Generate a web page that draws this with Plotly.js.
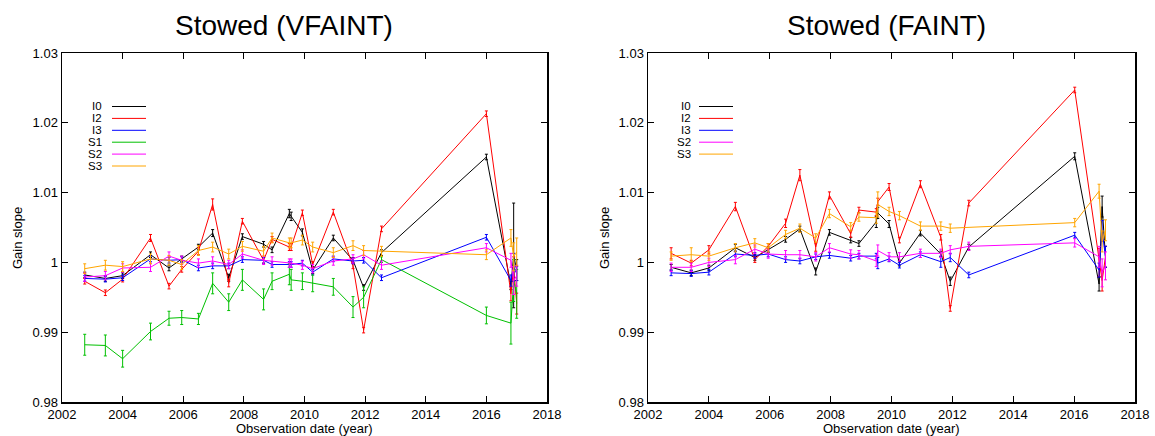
<!DOCTYPE html>
<html><head><meta charset="utf-8">
<script src="https://cdn.plot.ly/plotly-3.0.1.min.js"></script>
<style>html,body{margin:0;padding:0;background:#fff;}#chart{width:1155px;height:436px;}</style>
</head><body><div id="chart"></div>
<script>
// ---------- Data: Stowed (VFAINT) ----------
const dateVF = [2002.75, 2003.43, 2004.0, 2004.92, 2005.53, 2005.95, 2006.5, 2006.97, 2007.5, 2007.95, 2008.65, 2008.93, 2009.5, 2009.56, 2009.93, 2010.27, 2010.95, 2011.6, 2011.95, 2012.54, 2016.0, 2016.81, 2016.9, 2017.0];
const I0_VF  = [0.9982, 0.9977, 0.9981, 1.0011, 0.9992, 1.0005, 1.0022, 1.0042, 0.9978, 1.0037, 1.0026, 1.0018, 1.0070, 1.0066, 1.0043, 0.9989, 1.0035, 1.0003, 0.9964, 1.0014, 1.0151, 0.9967, 1.0010, 0.9989];
const I0_VF_err = [0.0004, 0.0004, 0.0004, 0.0004, 0.0004, 0.0004, 0.0004, 0.0005, 0.0005, 0.0004, 0.0004, 0.0004, 0.0006, 0.0006, 0.0005, 0.0005, 0.0004, 0.0004, 0.0004, 0.0004, 0.0004, 0.0006, 0.0075, 0.0015];
const I2_VF  = [0.9973, 0.99565, 0.9976, 1.0035, 0.9966, 0.9990, 1.0016, 1.0083, 0.9970, 1.0059, 1.0003, 1.0033, 1.0022, 1.0022, 1.0071, 0.9997, 1.0072, 0.9995, 0.9903, 1.0048, 1.0213, 0.9955, 0.9993, 0.9941];
const I2_VF_err = [0.0004, 0.0004, 0.0004, 0.0005, 0.0004, 0.0004, 0.0005, 0.0008, 0.0005, 0.0004, 0.0004, 0.0004, 0.0005, 0.0005, 0.0004, 0.0004, 0.0004, 0.0004, 0.0004, 0.0004, 0.0004, 0.0010, 0.0015, 0.0015];
const I3_VF  = [0.9977, 0.9976, 0.9978, 1.0005, 1.0003, 1.0004, 0.9992, 0.9995, 0.9995, 1.0004, 1.0003, 0.9997, 0.9997, 0.9997, 0.9999, 0.9986, 1.0005, 1.0002, 1.0003, 0.9978, 1.0036, 0.9974, 0.9993, 0.9984];
const I3_VF_err = [0.0004, 0.0004, 0.0004, 0.0004, 0.0004, 0.0004, 0.0004, 0.0004, 0.0004, 0.0004, 0.0004, 0.0004, 0.0004, 0.0004, 0.0004, 0.0004, 0.0004, 0.0004, 0.0004, 0.0004, 0.0004, 0.0008, 0.0020, 0.0010];
const S1_VF  = [0.9882, 0.9881, 0.9862, 0.9901, 0.9920, 0.9921, 0.9919, 0.9970, 0.9943, 0.9975, 0.9947, 0.9973, 0.9983, 0.9975, 0.9973, 0.9970, 0.9965, 0.9936, 0.9950, 1.0004, 0.9924, 0.9913, 0.9974, 0.9955];
const S1_VF_err = [0.0015, 0.0015, 0.0012, 0.0012, 0.0010, 0.0010, 0.0008, 0.0015, 0.0012, 0.0015, 0.0015, 0.0012, 0.0015, 0.0015, 0.0012, 0.0012, 0.0012, 0.0015, 0.0015, 0.0004, 0.0012, 0.0030, 0.0030, 0.0035];
const S2_VF  = [0.9979, 0.9981, 0.9992, 0.9993, 1.0009, 1.0003, 0.9999, 1.0002, 0.9997, 1.0012, 1.0003, 1.0002, 0.9999, 0.9999, 0.9996, 0.9991, 1.0002, 1.0005, 1.0011, 0.9996, 1.0021, 1.0003, 0.9974, 0.9981];
const S2_VF_err = [0.0006, 0.0006, 0.0006, 0.0006, 0.0006, 0.0006, 0.0006, 0.0006, 0.0006, 0.0006, 0.0006, 0.0006, 0.0006, 0.0006, 0.0006, 0.0006, 0.0006, 0.0006, 0.0006, 0.0006, 0.0006, 0.0010, 0.0020, 0.0015];
const S3_VF  = [0.9991, 0.9996, 0.9994, 1.0005, 1.0003, 0.9997, 1.0017, 1.0022, 1.0012, 1.0023, 1.0016, 1.0035, 1.0028, 1.0028, 1.0032, 1.0022, 1.0014, 1.0024, 1.0017, 1.0016, 1.0011, 1.0035, 1.0008, 1.0015];
const S3_VF_err = [0.0007, 0.0007, 0.0007, 0.0007, 0.0007, 0.0007, 0.0007, 0.0007, 0.0007, 0.0007, 0.0007, 0.0007, 0.0007, 0.0007, 0.0007, 0.0007, 0.0007, 0.0007, 0.0007, 0.0007, 0.0007, 0.0012, 0.0020, 0.0020];

// ---------- Data: Stowed (FAINT) ----------
const dateF = [2002.76, 2003.42, 2004.0, 2004.87, 2005.51, 2005.95, 2006.52, 2006.99, 2007.51, 2007.96, 2008.66, 2008.93, 2009.50, 2009.55, 2009.92, 2010.26, 2010.95, 2011.62, 2011.93, 2012.54, 2016.02, 2016.82, 2016.92, 2017.03];
const I0_F  = [0.9993, 0.9985, 0.9992, 1.0021, 1.0007, 1.0018, 1.0033, 1.0048, 0.9987, 1.0043, 1.0032, 1.0027, 1.0058, 1.0071, 1.0055, 0.9999, 1.0042, 1.0012, 0.9973, 1.0022, 1.0152, 0.9969, 1.0080, 1.0008];
const I0_F_err = [0.0004, 0.0004, 0.0004, 0.0005, 0.0004, 0.0004, 0.0004, 0.0004, 0.0005, 0.0004, 0.0004, 0.0004, 0.0008, 0.0008, 0.0005, 0.0004, 0.0004, 0.0004, 0.0006, 0.0004, 0.0005, 0.0010, 0.0015, 0.0015];
const I2_F  = [1.0013, 0.9999, 1.0018, 1.0080, 1.0004, 1.0023, 1.0056, 1.0125, 1.0022, 1.0096, 1.0041, 1.0075, 1.0072, 1.0087, 1.0108, 1.0032, 1.0112, 1.0036, 0.9934, 1.0085, 1.0247, 1.0000, 0.9974, 1.0008];
const I2_F_err = [0.0008, 0.0004, 0.0006, 0.0006, 0.0004, 0.0004, 0.0006, 0.0008, 0.0006, 0.0005, 0.0005, 0.0004, 0.0005, 0.0005, 0.0005, 0.0004, 0.0005, 0.0004, 0.0004, 0.0004, 0.0004, 0.0020, 0.0015, 0.0015];
const I3_F  = [0.9985, 0.9984, 0.9986, 1.0012, 1.0010, 1.0012, 1.0004, 1.0002, 1.0008, 1.0010, 1.0006, 1.0009, 1.0009, 0.9999, 1.0005, 0.9996, 1.0011, 1.0001, 1.0007, 0.9982, 1.0039, 0.9989, 1.0045, 1.0008];
const I3_F_err = [0.0004, 0.0004, 0.0004, 0.0004, 0.0004, 0.0004, 0.0004, 0.0004, 0.0004, 0.0004, 0.0004, 0.0004, 0.0004, 0.0008, 0.0004, 0.0004, 0.0004, 0.0008, 0.0006, 0.0004, 0.0004, 0.0010, 0.0015, 0.0015];
const S2_F  = [0.9993, 0.9993, 1.0000, 1.0004, 1.0019, 1.0012, 1.0011, 1.0011, 1.0008, 1.0021, 1.0012, 1.0011, 1.0002, 1.0017, 1.0008, 1.0008, 1.0013, 1.0013, 1.0018, 1.0023, 1.0028, 1.0008, 0.9985, 0.9995];
const S2_F_err = [0.0006, 0.0006, 0.0006, 0.0006, 0.0006, 0.0006, 0.0006, 0.0006, 0.0006, 0.0006, 0.0006, 0.0006, 0.0008, 0.0008, 0.0006, 0.0006, 0.0006, 0.0006, 0.0006, 0.0006, 0.0006, 0.0015, 0.0020, 0.0020];
const S3_F  = [1.0009, 1.0011, 1.0009, 1.0021, 1.0028, 1.0021, 1.0040, 1.0049, 1.0035, 1.0070, 1.0051, 1.0065, 1.0064, 1.0083, 1.0073, 1.0067, 1.0052, 1.0052, 1.0049, null, 1.0057, 1.0102, 1.0030, 1.0046];
const S3_F_err = [0.0006, 0.0010, 0.0006, 0.0006, 0.0006, 0.0006, 0.0006, 0.0006, 0.0006, 0.0006, 0.0006, 0.0006, 0.0008, 0.0018, 0.0006, 0.0006, 0.0006, 0.0006, 0.0006, 0.0006, 0.0006, 0.0010, 0.0015, 0.0015];

// ---------- Axis ticks ----------
const yTickVals = [0.98, 0.99, 1.0, 1.01, 1.02, 1.03];
const yTickText = ["0.98", "0.99", "1", "1.01", "1.02", "1.03"];
const xTickVals = [2002, 2004, 2006, 2008, 2010, 2012, 2014, 2016, 2018];
const xTickText = ["2002", "2004", "2006", "2008", "2010", "2012", "2014", "2016", "2018"];

const colors = {I0: "#000000", I2: "#ff0000", I3: "#0000ff", S1: "#00c000", S2: "#ff00ff", S3: "#ffa500"};

function tr(name, x, y, err, xa, ya) {
  return {
    type: "scatter", mode: "lines", name: name, x: x, y: y,
    xaxis: xa, yaxis: ya, connectgaps: true, showlegend: false,
    line: {color: colors[name], width: 1},
    error_y: {type: "data", array: err, visible: true, color: colors[name], thickness: 1, width: 1.5}
  };
}

const data = [
  tr("I0", dateVF, I0_VF, I0_VF_err, "x", "y"),
  tr("I2", dateVF, I2_VF, I2_VF_err, "x", "y"),
  tr("I3", dateVF, I3_VF, I3_VF_err, "x", "y"),
  tr("S1", dateVF, S1_VF, S1_VF_err, "x", "y"),
  tr("S2", dateVF, S2_VF, S2_VF_err, "x", "y"),
  tr("S3", dateVF, S3_VF, S3_VF_err, "x", "y"),
  tr("I0", dateF, I0_F, I0_F_err, "x2", "y2"),
  tr("I2", dateF, I2_F, I2_F_err, "x2", "y2"),
  tr("I3", dateF, I3_F, I3_F_err, "x2", "y2"),
  tr("S2", dateF, S2_F, S2_F_err, "x2", "y2"),
  tr("S3", dateF, S3_F, S3_F_err, "x2", "y2")
];

const W = 1155, H = 436;
const px = v => v / W, py = v => 1 - v / H;
const font = "Liberation Sans, Arial, Helvetica, sans-serif";

function xAx(domain, anchor) {
  return {domain: domain, anchor: anchor, range: [2002, 2018], tickvals: xTickVals, ticktext: xTickText,
    ticks: "inside", ticklen: 6, tickwidth: 1, tickcolor: "#000", mirror: "ticks", showline: true,
    linecolor: "#000", linewidth: 1.5, showgrid: false, zeroline: false, fixedrange: true,
    tickfont: {family: font, size: 13, color: "#000"}};
}
function yAx(anchor) {
  return {domain: [34 / H, 383 / H], anchor: anchor, range: [0.98, 1.03], tickvals: yTickVals, ticktext: yTickText,
    ticks: "inside", ticklen: 6, tickwidth: 1, tickcolor: "#000", mirror: "ticks", showline: true,
    linecolor: "#000", linewidth: 1.5, showgrid: false, zeroline: false, fixedrange: true,
    tickfont: {family: font, size: 13, color: "#000"}};
}

const annotations = [
  {text: "Stowed (VFAINT)", x: px(284), y: py(25), xref: "paper", yref: "paper", showarrow: false, xanchor: "center", yanchor: "middle", font: {family: font, size: 28, color: "#000"}},
  {text: "Stowed (FAINT)", x: px(886), y: py(25), xref: "paper", yref: "paper", showarrow: false, xanchor: "center", yanchor: "middle", font: {family: font, size: 28, color: "#000"}},
  {text: "Observation date (year)", x: px(304), y: py(428), xref: "paper", yref: "paper", showarrow: false, xanchor: "center", yanchor: "middle", font: {family: font, size: 13, color: "#000"}},
  {text: "Observation date (year)", x: px(891), y: py(428), xref: "paper", yref: "paper", showarrow: false, xanchor: "center", yanchor: "middle", font: {family: font, size: 13, color: "#000"}},
  {text: "Gain slope", x: px(18), y: py(238), xref: "paper", yref: "paper", showarrow: false, textangle: -90, xanchor: "center", yanchor: "middle", font: {family: font, size: 13, color: "#000"}},
  {text: "Gain slope", x: px(605), y: py(238), xref: "paper", yref: "paper", showarrow: false, textangle: -90, xanchor: "center", yanchor: "middle", font: {family: font, size: 13, color: "#000"}}
];
const shapes = [];
function key(names, textRight, x0, x1) {
  names.forEach((n, i) => {
    const yy = 106.5 + i * 11.9;
    annotations.push({text: n, x: px(textRight), y: py(yy), xref: "paper", yref: "paper", showarrow: false,
      xanchor: "right", yanchor: "middle", borderpad: 0, font: {family: font, size: 11.5, color: "#000"}});
    shapes.push({type: "line", xref: "paper", yref: "paper", x0: px(x0), x1: px(x1), y0: py(yy), y1: py(yy),
      line: {color: colors[n], width: 1}});
  });
}
key(["I0", "I2", "I3", "S1", "S2", "S3"], 103, 112, 146);
key(["I0", "I2", "I3", "S2", "S3"], 692, 699, 733);

const layout = {
  width: W, height: H, margin: {l: 0, r: 0, t: 0, b: 0},
  paper_bgcolor: "#fff", plot_bgcolor: "#fff", showlegend: false,
  font: {family: font, color: "#000"},
  xaxis: xAx([62 / W, 547 / W], "y"),
  yaxis: yAx("x"),
  xaxis2: xAx([648 / W, 1135 / W], "y2"),
  yaxis2: yAx("x2"),
  annotations: annotations, shapes: shapes
};
Plotly.newPlot("chart", data, layout, {staticPlot: true, displayModeBar: false});
</script></body></html>
